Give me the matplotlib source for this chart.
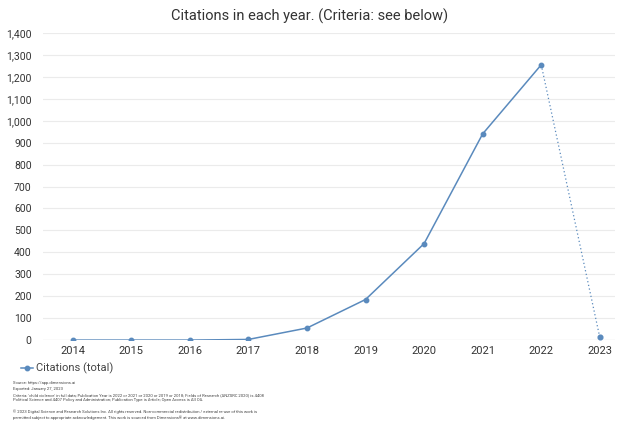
import matplotlib
matplotlib.use("Agg")
from matplotlib import pyplot as plt

plt.rcParams['font.family'] = ['Roboto', 'DejaVu Sans']

# data
years = [2014, 2015, 2016, 2017, 2018, 2019, 2020, 2021, 2022, 2023]
citations = [0, 0, 0, 3, 55, 185, 440, 940, 1255, 12]
yticks = list(range(0, 1401, 100))

footer = [
    "Source: https://app.dimensions.ai",
    "Exported: January 27, 2023",
    "Criteria: 'child violence' in full data; Publication Year is 2022 or 2021 or 2020 or 2019 or 2018; Fields of Research (ANZSRC 2020) is 4408",
    "Political Science and 4407 Policy and Administration; Publication Type is Article; Open Access is All OA.",
    "",
    "\u00a9 2023 Digital Science and Research Solutions Inc. All rights reserved. Non-commercial redistribution / external re-use of this work is",
    "permitted subject to appropriate acknowledgement. This work is sourced from Dimensions\u00ae at www.dimensions.ai.",
]

col = '#5a8abd'

fig = plt.figure(figsize=(6.2, 4.23), dpi=100)
ax = fig.add_axes([0.069, 0.196, 0.923, 0.726])

# solid part up to 2022, dotted to the partial year
ax.plot(years[:-1], citations[:-1], color=col, lw=1.1, marker='o', ms=3.2,
        label='Citations (total)', zorder=3)
ax.plot(years[-2:], citations[-2:], color=col, lw=0.9, ls=(0, (1, 2)), zorder=3)
ax.plot(years[-1:], citations[-1:], color=col, marker='o', ms=3.4, ls='', zorder=3)

ax.set_xlim(2013.49, 2023.26)
ax.set_ylim(0, 1400)
ax.set_yticks(yticks)
ax.set_yticklabels([f"{v:,}" for v in yticks])
ax.set_xticks(years)
ax.tick_params(axis='both', length=0, labelsize=7.5, colors='#333333')
ax.tick_params(axis='x', pad=4, labelsize=8)
ax.tick_params(axis='y', pad=8)
ax.grid(axis='y', color='#ebebeb', lw=0.8)
ax.set_axisbelow(True)
for s in ax.spines.values():
    s.set_visible(False)
ax.axhline(0, color='#cfcfcf', lw=0.8, zorder=1)

fig.text(0.5, 0.962, 'Citations in each year. (Criteria: see below)',
         ha='center', va='center', fontsize=10.5, color='#333333')

leg = ax.legend(loc='upper left', bbox_to_anchor=(-0.046, -0.06), frameon=False,
                fontsize=8, handlelength=1.1, handletextpad=0.3, borderaxespad=0)
for t in leg.get_texts():
    t.set_color('#444444')

y0 = 0.094
for i, line in enumerate(footer):
    fig.text(0.021, y0 - i * 0.0135, line, fontsize=3.0, color='#444444',
             ha='left', va='center')

fig.savefig('out.png', dpi=100)
